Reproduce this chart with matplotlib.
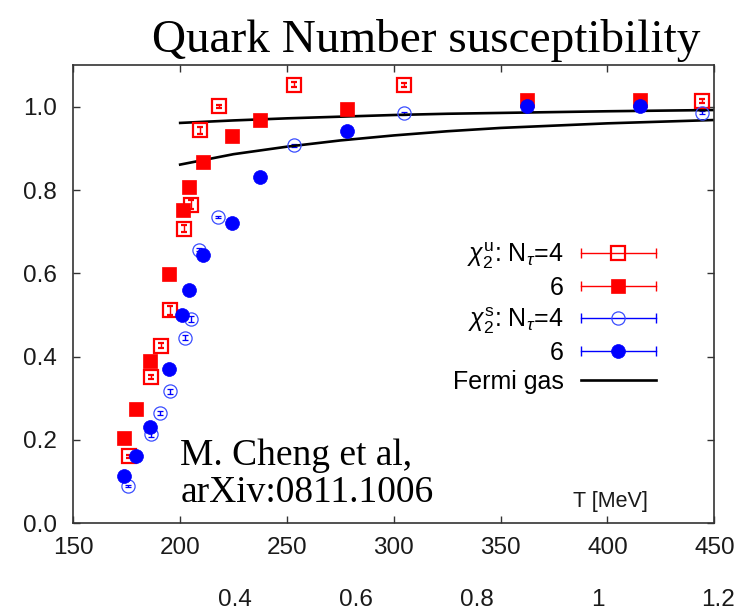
import matplotlib
matplotlib.use("Agg")
import matplotlib.pyplot as plt
from matplotlib.lines import Line2D
from matplotlib.legend_handler import HandlerLine2D

plt.rcParams["font.family"] = "Liberation Sans"
plt.rcParams["mathtext.fontset"] = "custom"
plt.rcParams["mathtext.rm"] = "Liberation Sans"
plt.rcParams["mathtext.it"] = "Liberation Sans:italic"
plt.rcParams["mathtext.bf"] = "Liberation Sans:bold"

# chi_2^u, N_tau = 4
T_u4 = [176.0, 186.4, 191.0, 195.3, 202.0, 205.0, 209.3, 218.0, 253.4, 304.9, 444.1]
chi_u4 = [0.161, 0.351, 0.426, 0.511, 0.707, 0.765, 0.943, 1.001, 1.053, 1.052, 1.014]
err_u4 = [0.004, 0.005, 0.006, 0.010, 0.008, 0.010, 0.009, 0.004, 0.006, 0.004, 0.004]

# chi_2^u, N_tau = 6
T_u6 = [173.7, 179.5, 185.7, 194.8, 201.2, 204.3, 210.6, 224.3, 237.4, 277.9, 362.2, 415.2]
chi_u6 = [0.205, 0.275, 0.390, 0.599, 0.753, 0.807, 0.868, 0.929, 0.968, 0.994, 1.016, 1.016]
err_u6 = [0.006, 0.006, 0.008, 0.010, 0.010, 0.010, 0.008, 0.008, 0.006, 0.006, 0.005, 0.005]

# chi_2^s, N_tau = 4
T_s4 = [175.7, 186.4, 190.6, 195.1, 202.4, 204.9, 209.0, 217.9, 253.4, 304.9, 444.1]
chi_s4 = [0.089, 0.214, 0.264, 0.317, 0.445, 0.490, 0.657, 0.735, 0.907, 0.984, 0.986]
err_s4 = [0.003, 0.006, 0.005, 0.006, 0.006, 0.008, 0.004, 0.003, 0.004, 0.003, 0.003]

# chi_2^s, N_tau = 6
T_s6 = [173.5, 179.5, 185.7, 194.9, 200.9, 204.3, 210.6, 224.2, 237.4, 277.9, 362.4, 415.2]
chi_s6 = [0.114, 0.162, 0.232, 0.371, 0.501, 0.561, 0.643, 0.720, 0.831, 0.942, 1.002, 1.002]
err_s6 = [0.005, 0.005, 0.006, 0.008, 0.008, 0.008, 0.008, 0.006, 0.006, 0.005, 0.004, 0.004]

# free Fermi gas on the lattice (upper: N_tau=6, lower: N_tau=4)
T_fg = [200, 225, 250, 275, 300, 325, 350, 400, 450]
fg_hi = [0.961, 0.967, 0.972, 0.976, 0.980, 0.983, 0.985, 0.989, 0.992]
fg_lo = [0.861, 0.886, 0.904, 0.919, 0.931, 0.941, 0.949, 0.960, 0.968]

x_ticks = [150, 200, 250, 300, 350, 400, 450]
y_ticks = [0.0, 0.2, 0.4, 0.6, 0.8, 1.0]
ratio_labels = ["0.4", "0.6", "0.8", "1", "1.2"]
ratio_pos = [225.7, 282.2, 338.8, 395.3, 451.9]

RED = "#ff0000"
BLUE = "#0000ff"
AXCOL = "#333333"
TXT = "#1a1a1a"

fig = plt.figure(figsize=(7.43, 6.11), dpi=100)
ax = fig.add_axes([0.0987, 0.1435, 0.8627, 0.7501])

ax.errorbar(T_u4, chi_u4, yerr=err_u4, fmt="s", ms=9.5, mfc="none", mec=RED, mew=1.6,
            ecolor=RED, elinewidth=1, capsize=2.5, capthick=1)
ax.errorbar(T_u6, chi_u6, yerr=err_u6, fmt="s", ms=9.5, mfc=RED, mec=RED, mew=0.5,
            ecolor=RED, elinewidth=1, capsize=2.5, capthick=1)
ax.errorbar(T_s4, chi_s4, yerr=err_s4, fmt="o", ms=9.5, mfc="none", mec="#3a4dff", mew=0.9,
            ecolor=BLUE, elinewidth=1, capsize=2.5, capthick=1)
ax.errorbar(T_s6, chi_s6, yerr=err_s6, fmt="o", ms=10, mfc=BLUE, mec=BLUE, mew=0.5,
            ecolor=BLUE, elinewidth=1, capsize=2.5, capthick=1)
ax.plot(T_fg, fg_hi, color="black", lw=1.9)
ax.plot(T_fg, fg_lo, color="black", lw=1.9)

ax.set_xlim(150, 450)
ax.set_ylim(0, 1.1)
ax.set_xticks(x_ticks)
ax.set_yticks(y_ticks)
ax.set_yticklabels([f"{v:.1f}" for v in y_ticks])
ax.tick_params(direction="in", top=True, right=True, length=5, width=1, color=AXCOL,
               labelsize=17.5, labelcolor=TXT)
ax.tick_params(axis="x", pad=10)
ax.tick_params(axis="y", pad=12)
for sp in ax.spines.values():
    sp.set_color(AXCOL)
    sp.set_linewidth(1.2)

# second row of labels under the temperature axis
for lab, pos in zip(ratio_labels, ratio_pos):
    ax.text(pos, -0.167, lab, transform=ax.get_xaxis_transform(), ha="center", va="center",
            fontsize=17.5, color=TXT)

ax.text(419, 0.039, "T [MeV]", ha="right", va="baseline", fontsize=15.5, color=TXT)
ax.text(200, 0.140, "M. Cheng et al,", ha="left", va="baseline", fontsize=27,
        family="Liberation Serif")
ax.text(200, 0.051, "arXiv:0811.1006", ha="left", va="baseline", fontsize=27,
        family="Liberation Serif")

fig.text(0.573, 0.915, "Quark Number susceptibility", ha="center", va="baseline",
         fontsize=34, family="Liberation Serif")

# key: horizontal error bar with the symbol in the middle
def key_entry(color, marker, mfc, mec, mew, ms):
    bar = Line2D([], [], color=color, lw=1, marker="|", ms=7, mew=1)
    pt = Line2D([], [], ls="none", marker=marker, ms=ms, mfc=mfc, mec=mec, mew=mew)
    return bar, pt

entries = [
    key_entry(RED, "s", "none", RED, 1.6, 9.5),
    key_entry(RED, "s", RED, RED, 0.5, 9.5),
    key_entry(BLUE, "o", "none", "#3a4dff", 0.9, 9.5),
    key_entry(BLUE, "o", BLUE, BLUE, 0.5, 10),
]
hmap = {}
handles = []
for bar, pt in entries:
    hmap[bar] = HandlerLine2D(numpoints=2, marker_pad=0)
    hmap[pt] = HandlerLine2D(numpoints=1)
    handles.append((bar, pt))
fermi = Line2D([], [], color="black", lw=1.9)
handles.append(fermi)
labels = [r"$\chi_2^{\rm u}$: N$_\tau$=4", "6", r"$\chi_2^{\rm s}$: N$_\tau$=4", "6", "Fermi gas"]

ax.legend(handles, labels, handler_map=hmap, loc="center right", bbox_to_anchor=(0.909, 0.45),
          frameon=False, markerfirst=False, fontsize=18, handlelength=3.0, handletextpad=0.7,
          labelspacing=0.2, borderpad=0, borderaxespad=0)

fig.savefig("out.png", dpi=100)
